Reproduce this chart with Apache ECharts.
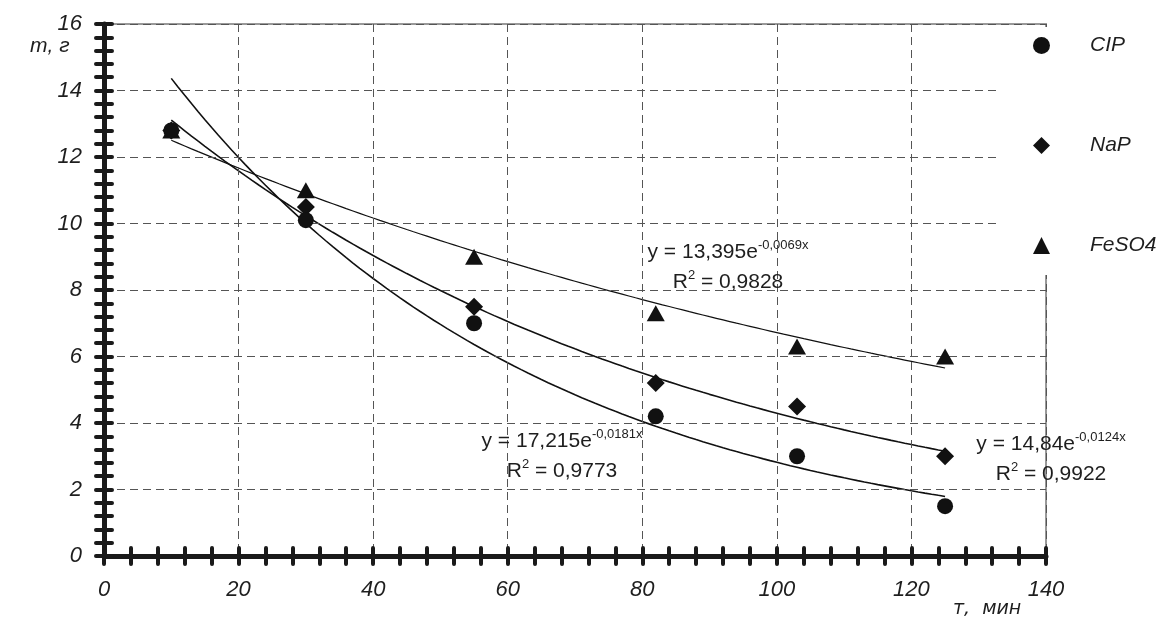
<!DOCTYPE html>
<html>
<head>
<meta charset="utf-8">
<script src="https://cdn.jsdelivr.net/npm/echarts@6/dist/echarts.min.js"></script>
<style>
  html, body { margin: 0; padding: 0; background: #fff; }
  #chart { width: 1162px; height: 623px; }
</style>
</head>
<body>
<div id="chart"></div>
<script>
// время, мин
const xValues = [10, 30, 55, 82, 103, 125]
// масса, г
const cipValues = [12.8, 10.1, 7.0, 4.2, 3.0, 1.5]
const napValues = [12.8, 10.5, 7.5, 5.2, 4.5, 3.0]
const feso4Values = [12.8, 11.0, 9.0, 7.3, 6.3, 6.0]

const seriesNames = ['CIP', 'NaP', 'FeSO4']
const symbols = ['circle', 'diamond', 'triangle']

// экспоненциальные линии тренда y = a * e^(k*x), как подписано на графике
const trendA = [17.215, 14.84, 13.395]
const trendK = [-0.0181, -0.0124, -0.0069]
const trendR2 = ['0,9773', '0,9922', '0,9828']
const trendAText = ['17,215', '14,84', '13,395']
const trendKText = ['-0,0181x', '-0,0124x', '-0,0069x']

const xTicks = [0, 20, 40, 60, 80, 100, 120, 140]
const yTicks = [0, 2, 4, 6, 8, 10, 12, 14, 16]

const FONT = 'Liberation Sans, Arial, sans-serif'
const ink = '#1a1a1a'

const allValues = [cipValues, napValues, feso4Values]

const trendData = (i) => {
  const pts = []
  for (let x = xValues[0]; x <= xValues[xValues.length - 1]; x += 1) {
    pts.push([x, trendA[i] * Math.exp(trendK[i] * x)])
  }
  return pts
}

const chart = echarts.init(document.getElementById('chart'), null, { renderer: 'canvas' })

const axisBase = (ticks) => ({
  type: 'value',
  min: ticks[0],
  max: ticks[ticks.length - 1],
  interval: ticks[1] - ticks[0],
  splitNumber: ticks.length - 1
})

const tickStyle = { color: ink, width: 4, cap: 'round' }

const outerAxis = (ticks, isX) => Object.assign(axisBase(ticks), {
  position: isX ? 'bottom' : 'left',
  axisLine: { show: true, onZero: false, lineStyle: { color: ink, width: 5 } },
  axisTick: { show: true, inside: false, length: 8, lineStyle: tickStyle },
  minorTick: { show: true, splitNumber: 5, length: 8, lineStyle: tickStyle },
  axisLabel: {
    show: true,
    margin: isX ? 23 : 22,
    fontFamily: FONT,
    fontStyle: 'italic',
    fontSize: 22,
    color: '#1e1e1e'
  },
  splitLine: {
    show: true,
    lineStyle: { color: '#555', width: 1, type: [8, 5] }
  },
  z: 3
})

const innerAxis = (ticks, isX) => Object.assign(axisBase(ticks), {
  position: isX ? 'bottom' : 'left',
  axisLine: { show: false, onZero: false },
  axisTick: { show: true, inside: true, length: 8, lineStyle: tickStyle },
  minorTick: { show: true, splitNumber: 5, length: 8, lineStyle: tickStyle },
  axisLabel: { show: false },
  splitLine: { show: false },
  z: 3
})

const symbolSizes = [16, 18, [18, 16]]

const scatterSeries = seriesNames.map((name, i) => ({
  name: name,
  type: 'scatter',
  symbol: symbols[i],
  symbolSize: symbolSizes[i],
  itemStyle: { color: '#111', opacity: 1 },
  z: 6 - i,
  data: xValues.map((x, j) => [x, allValues[i][j]])
}))

const trendSeries = seriesNames.map((name, i) => ({
  name: name + ' тренд',
  type: 'line',
  showSymbol: false,
  silent: true,
  lineStyle: { color: '#111', width: i === 2 ? 1.2 : 1.6 },
  z: 2,
  data: trendData(i)
}))

// подписи уравнений тренда
const eqPos = [[562, 441], [1051, 444], [728, 252]]
const eqRich = {
  m: { fontFamily: FONT, fontSize: 21, lineHeight: 26, fill: '#1e1e1e' },
  s: { fontFamily: FONT, fontSize: 13, lineHeight: 13, verticalAlign: 'top', fill: '#1e1e1e' }
}
const eqGraphics = []
eqPos.forEach((p, i) => {
  eqGraphics.push({
    type: 'text',
    x: p[0], y: p[1], z: 10,
    style: {
      text: '{m|y = ' + trendAText[i] + 'e}{s|' + trendKText[i] + '}',
      rich: eqRich,
      align: 'center',
      verticalAlign: 'middle'
    }
  })
  eqGraphics.push({
    type: 'text',
    x: p[0], y: p[1] + 30, z: 10,
    style: {
      text: '{m|R}{s|2}{m| = ' + trendR2[i] + '}',
      rich: eqRich,
      align: 'center',
      verticalAlign: 'middle'
    }
  })
})

chart.setOption({
  backgroundColor: '#fff',
  animation: false,
  grid: {
    left: 104,
    right: 116,
    top: 24,
    bottom: 67,
    show: true,
    borderColor: '#999',
    borderWidth: 2,
    backgroundColor: 'transparent'
  },
  legend: {
    data: seriesNames,
    orient: 'vertical',
    left: 997,
    top: 27,
    padding: [8, 30, 19, 36],
    itemWidth: 17,
    itemHeight: 17,
    itemGap: 79,
    backgroundColor: '#fff',
    z: 8,
    itemStyle: { opacity: 1 },
    textStyle: {
      fontFamily: FONT,
      fontStyle: 'italic',
      fontSize: 21,
      color: '#1e1e1e',
      padding: [0, 0, 0, 35]
    }
  },
  xAxis: [outerAxis(xTicks, true), innerAxis(xTicks, true)],
  yAxis: [outerAxis(yTicks, false), innerAxis(yTicks, false)],
  graphic: [
    {
      type: 'text', left: 30, top: 36, z: 10,
      style: { text: 'm, г', fontFamily: FONT, fontStyle: 'italic', fontSize: 21, fill: '#1e1e1e' }
    },
    {
      type: 'text', left: 953, top: 600, z: 10,
      style: { text: 'т,  мин', fontFamily: 'DejaVu Sans', fontStyle: 'italic', fontSize: 19, fill: '#1e1e1e' }
    }
  ].concat(eqGraphics),
  series: trendSeries.concat(scatterSeries)
})
</script>
</body>
</html>
